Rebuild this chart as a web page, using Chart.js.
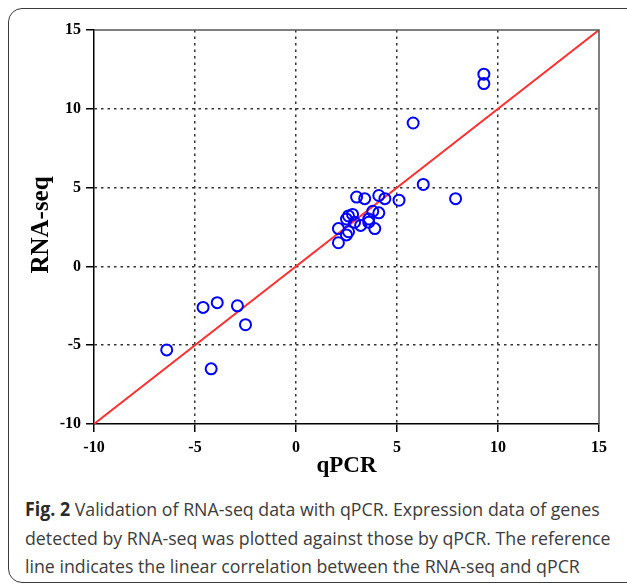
<!DOCTYPE html>
<html lang="en">
<head>
  <meta charset="UTF-8" />
  <title>Fig. 2 RNA-seq vs qPCR</title>
  <style>
    body {
      margin: 0;
      width: 627px;
      height: 585px;
      overflow: hidden;
      background: #fff;
      position: relative;
      font-family: "Open Sans", sans-serif;
    }
    #frame {
      position: absolute;
      left: 8px;
      top: 8px;
      width: 640px;
      height: 573px;
      border: 1.5px solid #3a3a3a;
      border-radius: 14px;
    }
    #chart {
      position: absolute;
      left: 0;
      top: 0;
    }
    #cap {
      position: absolute;
      left: 25px;
      top: 495px;
      font-size: 19px;
      line-height: 28.5px;
      color: #3c3c3c;
      white-space: nowrap;
      transform: scaleX(0.935);
      transform-origin: left top;
    }
    #cap b { color: #2a2a2a; }
  </style>
</head>
<body>
  <div id="frame"></div>
  <canvas id="chart" width="627" height="490"></canvas>
  <div id="cap"><b>Fig. 2</b> Validation of RNA-seq data with qPCR. Expression data of genes<br>detected by RNA-seq was plotted against those by qPCR. The reference<br>line indicates the linear correlation between the RNA-seq and qPCR</div>

  <script src="https://cdn.jsdelivr.net/npm/chart.js"></script>
  <script>
    // values
    const qpcr = [-6.4, -4.2, -4.6, -3.9, -2.9, -2.5,
                  2.1, 2.1, 2.5, 2.6, 2.5, 2.6, 2.8, 2.9, 3.0, 3.4, 3.2, 3.6, 3.6, 3.8,
                  4.1, 4.4, 4.1, 3.9, 5.1, 5.8, 6.3, 7.9, 9.3, 9.3];
    const rnaseq = [-5.3, -6.5, -2.6, -2.3, -2.5, -3.7,
                    2.4, 1.5, 2.0, 2.2, 3.0, 3.2, 3.3, 2.8, 4.4, 4.3, 2.6, 2.8, 3.0, 3.5,
                    4.5, 4.3, 3.4, 2.4, 4.2, 9.1, 5.2, 4.3, 12.2, 11.6];
    const refX = [-10, 15];
    const refY = [-10, 15];
    const axisMin = -10, axisMax = 15, axisStep = 5;
    const xTitle = 'qPCR';
    const yTitle = 'RNA-seq';

    const points = qpcr.map((x, i) => ({ x: x, y: rnaseq[i] }));
    const refLine = refX.map((x, i) => ({ x: x, y: refY[i] }));

    const tickFont = { family: '"Liberation Serif", serif', size: 16, weight: 'bold' };
    const edge = v => v === axisMin || v === axisMax;

    const decor = {
      id: 'decor',
      afterDraw(chart) {
        const { ctx, chartArea: a } = chart;
        ctx.save();
        ctx.strokeStyle = '#555';
        ctx.lineWidth = 1.5;
        ctx.beginPath();
        ctx.moveTo(a.left, a.top);
        ctx.lineTo(a.right, a.top);
        ctx.lineTo(a.right, a.bottom);
        ctx.stroke();
        ctx.fillStyle = '#000';
        ctx.textAlign = 'center';
        ctx.textBaseline = 'middle';
        ctx.font = 'bold 23px "Liberation Serif", serif';
        ctx.fillText(xTitle, (a.left + a.right) / 2, 466);
        ctx.font = 'bold 25px "Liberation Serif", serif';
        ctx.translate(42, 225);
        ctx.rotate(-Math.PI / 2);
        ctx.fillText(yTitle, 0, 0);
        ctx.restore();
      }
    };

    function axis(pos) {
      return {
        type: 'linear',
        position: pos,
        min: axisMin,
        max: axisMax,
        ticks: { stepSize: axisStep, color: '#000', font: tickFont, padding: pos === 'left' ? 5 : 6 },
        // in v4 border.dash sets the dash of the grid lines
        border: { display: true, color: '#000', width: 1.5, dash: [2.5, 4] },
        grid: {
          color: c => edge(c.tick.value) ? 'rgba(0,0,0,0)' : '#333',
          lineWidth: 1.5,
          tickColor: '#000',
          tickLength: 8,
          tickWidth: 1.5,
          tickBorderDash: []
        },
        afterFit(scale) {
          if (pos === 'left') scale.width = 94;
          else scale.height = 66;
        }
      };
    }

    new Chart(document.getElementById('chart'), {
      type: 'scatter',
      data: {
        datasets: [
          {
            data: points,
            pointStyle: 'circle',
            pointRadius: 5.5,
            pointBorderWidth: 2,
            pointBorderColor: '#0000ff',
            pointBackgroundColor: 'rgba(0,0,0,0)',
            order: 1
          },
          {
            type: 'line',
            data: refLine,
            borderColor: '#ff3030',
            borderWidth: 2,
            pointRadius: 0,
            fill: false,
            order: 2
          }
        ]
      },
      options: {
        responsive: false,
        animation: false,
        devicePixelRatio: 1,
        layout: { padding: { left: 0, right: 28, top: 30, bottom: 0 } },
        plugins: { legend: { display: false }, tooltip: { enabled: false } },
        scales: { x: axis('bottom'), y: axis('left') }
      },
      plugins: [decor]
    });
  </script>
</body>
</html>
